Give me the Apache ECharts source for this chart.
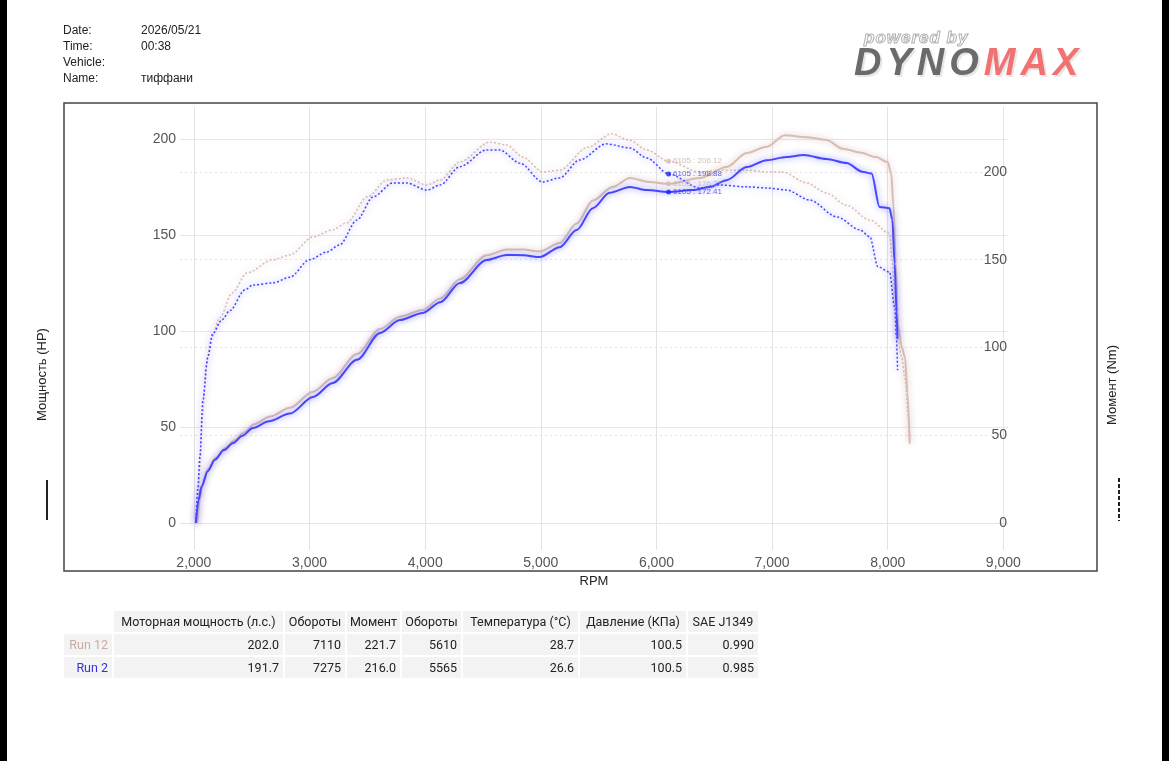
<!DOCTYPE html>
<html>
<head>
<meta charset="utf-8">
<title>Dynomax</title>
<script src="https://cdn.jsdelivr.net/npm/echarts@6/dist/echarts.min.js"></script>
<style>
html,body{margin:0;padding:0;background:#fff;}
body{width:1169px;height:761px;position:relative;overflow:hidden;font-family:"Liberation Sans",Arial,sans-serif;}
.bar{position:absolute;top:0;bottom:0;width:7px;background:#000;z-index:3;}
#chart{position:absolute;left:0;top:0;width:1169px;height:761px;}
#info{position:absolute;left:63px;top:22px;font-size:12px;line-height:16px;color:#222;z-index:2;}
#info span{display:inline-block;width:78px;}
#logo{position:absolute;left:854px;top:28px;z-index:2;font-family:"Liberation Sans",Arial,sans-serif;}
#logo .pw{position:absolute;left:10px;top:0;font-size:17px;font-weight:bold;font-style:italic;color:#fff;-webkit-text-stroke:1px #b0b0b0;letter-spacing:1px;white-space:nowrap;}
#logo .dm{position:absolute;left:0;top:13px;font-size:38px;font-weight:900;font-style:italic;letter-spacing:5px;white-space:nowrap;text-shadow:2px 2px 1px #e6e6e6;}
#logo .g{color:#6b6b6b;}
#logo .r{color:#f07272;}
#tbl{position:absolute;left:62px;top:609px;z-index:2;border-collapse:separate;border-spacing:2px;font-family:Roboto,"Liberation Sans",sans-serif;font-size:12.5px;color:#222;table-layout:fixed;}
#tbl td{height:21px;padding:0 4px;background:#f3f3f3;text-align:right;white-space:nowrap;box-sizing:border-box;}
#tbl tr.hd td{text-align:center;padding:0 2px;}
#tbl td.blank{background:transparent;}
</style>
</head>
<body>
<div class="bar" style="left:0"></div>
<div class="bar" style="right:0"></div>
<div id="chart"></div>
<div id="info"></div>
<div id="logo"><div class="pw">powered by</div><div class="dm"><span class="g">DYNO</span><span class="r">MAX</span></div></div>
<table id="tbl"></table>
<script>
// шапка
const infoRows = [['Date:', '2026/05/21'], ['Time:', '00:38'], ['Vehicle:', ''], ['Name:', 'тиффани']];

// оси
const xTicks = [2000, 3000, 4000, 5000, 6000, 7000, 8000, 9000];
const hpTicks = [0, 50, 100, 150, 200];
const nmTicks = [0, 50, 100, 150, 200];

// Run 12, мощность (HP) [rpm, hp]
const run12Hp = [[2030,0],[2050,12],[2075,20],[2120,28],[2190,34],[2270,39],[2350,43],[2430,47],[2520,51.5],[2660,55.5],[2830,60],[3030,68.4],[3200,75.5],[3410,88],[3610,101],[3780,107.5],[3980,111],[4130,117],[4300,127],[4530,139.5],[4705,142.5],[4850,142.5],[4990,141.5],[5163,145.8],[5310,156],[5450,168],[5620,175],[5770,179.7],[5940,177.6],[6105,176.7],[6375,179.7],[6607,185.4],[6780,192.7],[6953,196],[7110,202],[7300,201],[7470,199.5],[7610,195],[7760,193],[7900,190.6],[8000,188],[8030,182],[8050,165],[8070,135],[8090,103],[8120,92],[8150,86],[8170,68],[8190,42]];
// Run 12, момент (Nm)
const run12Nm = [[2030,0],[2050,30],[2075,62],[2105,90],[2150,105],[2225,117],[2330,131],[2460,142.5],[2683,150],[2830,152.7],[3030,163],[3200,167],[3320,171],[3500,185.8],[3670,195.4],[3840,196.6],[4015,192.6],[4130,195.4],[4300,205.7],[4560,217],[4705,215.4],[4845,208.5],[5015,200],[5163,201],[5405,214],[5610,221.7],[5770,218],[5915,212.5],[6105,206.1],[6375,200],[6545,201],[6780,201],[6953,200],[7090,200],[7300,193.7],[7470,188],[7644,181],[7845,172.6],[8015,165],[8040,150],[8060,128],[8085,105],[8120,95],[8150,82],[8175,62],[8190,45]];
// Run 2, мощность (HP)
const run2Hp = [[2017,0],[2040,12],[2066,19],[2120,27],[2182,33],[2260,38],[2340,41.7],[2420,45.5],[2510,49.5],[2650,53],[2830,57],[3030,65.6],[3200,72.9],[3410,85],[3610,99],[3780,105.7],[3980,109.4],[4130,115],[4300,125],[4530,137],[4705,139.6],[4850,139.5],[4990,138.5],[5163,143.7],[5310,152.6],[5450,164],[5595,172],[5770,175],[5915,173.4],[6105,172.4],[6313,173.4],[6460,175],[6607,178.6],[6780,185.4],[6953,189],[7125,190.6],[7275,191.7],[7470,189.6],[7644,187.5],[7780,183],[7860,182],[7930,164.6],[8015,164],[8040,158],[8060,135],[8076,110],[8085,96]];
// Run 2, момент (Nm)
const run2Nm = [[2017,0],[2035,20],[2052,37.6],[2078,70],[2121,94.6],[2164,108],[2242,115.7],[2311,121],[2441,132.8],[2510,135.6],[2683,136.8],[2830,140],[3000,150],[3150,154.4],[3260,158.4],[3410,172.6],[3550,185.8],[3720,193.7],[3840,193.7],[4015,189.7],[4130,192.6],[4300,203],[4530,212.5],[4645,212.5],[4820,205],[5015,194.3],[5163,196.6],[5336,206.8],[5565,216],[5770,213.7],[5915,208],[6105,198.9],[6375,190.9],[6545,192.6],[6780,191.5],[6953,190.9],[7125,189.7],[7325,184],[7560,174.4],[7760,167],[7845,163],[7915,146],[8015,143],[8060,123],[8075,106],[8085,87]];

// метки курсора
const cursorRpm = 6105;
const run12Cursor = [206.12, 176.71];
const run2Cursor = [198.88, 172.41];

// таблица
const tableHead = ['', 'Моторная мощность (л.с.)', 'Обороты', 'Момент', 'Обороты', 'Температура (°C)', 'Давление (КПа)', 'SAE J1349'];
const run12Row = ['Run 12', '202.0', '7110', '221.7', '5610', '28.7', '100.5', '0.990'];
const run2Row = ['Run 2', '191.7', '7275', '216.0', '5565', '26.6', '100.5', '0.985'];
const colWidths = [48, 169, 60, 53, 59, 115, 106, 70];

const C12 = '#d6bdb5';
const C2 = '#4646ff';

document.getElementById('info').innerHTML = infoRows.map(r => '<div><span>' + r[0] + '</span>' + r[1] + '</div>').join('');

let html = '<colgroup>' + colWidths.map(w => '<col style="width:' + w + 'px">').join('') + '</colgroup>';
html += '<tr class="hd">' + tableHead.map((t, i) => '<td' + (i == 0 ? ' class="blank"' : '') + '>' + t + '</td>').join('') + '</tr>';
html += '<tr>' + run12Row.map((t, i) => '<td' + (i == 0 ? ' style="color:#c9aca4"' : '') + '>' + t + '</td>').join('') + '</tr>';
html += '<tr>' + run2Row.map((t, i) => '<td' + (i == 0 ? ' style="color:#3333dd"' : '') + '>' + t + '</td>').join('') + '</tr>';
document.getElementById('tbl').innerHTML = html;

function curve(name, data, yIdx, color, glow, dotted) {
  return {
    name: name, type: 'line', data: data, yAxisIndex: yIdx,
    showSymbol: false, smooth: 0.3, smoothMonotone: 'x',
    lineStyle: { color: color, width: dotted ? 1.5 : 2, type: dotted ? [2, 2] : 'solid', shadowBlur: 6, shadowColor: glow },
    silent: true
  };
}

function cursor(name, value, yIdx, color, labelColor) {
  return {
    name: name, type: 'scatter', yAxisIndex: yIdx, z: 5,
    data: [[cursorRpm, value]], symbolSize: 5, itemStyle: { color: color },
    label: { show: true, position: 'right', distance: 2, fontSize: 8, color: labelColor,
      formatter: p => p.value[0] + ' : ' + p.value[1].toFixed(2) },
    silent: true
  };
}

const chart = echarts.init(document.getElementById('chart'));
chart.setOption({
  animation: false,
  grid: { left: 180, right: 161, top: 107, bottom: 211 },
  xAxis: {
    type: 'value', min: 1880, max: 9040,
    name: 'RPM', nameLocation: 'middle', nameGap: 24,
    nameTextStyle: { fontSize: 13, color: '#222', fontFamily: 'Liberation Sans' },
    axisLine: { show: false },
    axisTick: { show: false, customValues: xTicks },
    axisLabel: { customValues: xTicks, fontSize: 14, color: '#555', margin: 6, fontFamily: 'Liberation Sans',
      formatter: v => v.toLocaleString('en-US') },
    splitLine: { show: true, lineStyle: { color: '#e3e3e3', width: 1 } }
  },
  yAxis: [{
    type: 'value', min: -14.06, max: 216.7,
    name: 'Мощность (HP)', nameLocation: 'middle', nameRotate: 90, nameGap: 131,
    nameTextStyle: { fontSize: 13, color: '#222', fontFamily: 'Liberation Sans', padding: [0, 92, 0, 0] },
    axisLine: { show: false },
    axisTick: { show: false, customValues: hpTicks },
    axisLabel: { customValues: hpTicks, fontSize: 14, color: '#555', margin: 4, fontFamily: 'Liberation Sans' },
    splitLine: { show: true, lineStyle: { color: '#e8e8e8', width: 1 } }
  }, {
    type: 'value', position: 'right', min: -15.38, max: 237.0,
    name: 'Момент (Nm)', nameLocation: 'middle', nameRotate: 90, nameGap: 98,
    nameTextStyle: { fontSize: 13, color: '#222', fontFamily: 'Liberation Sans', padding: [0, 113, 0, 0] },
    axisLine: { show: false },
    axisTick: { show: false, customValues: nmTicks },
    axisLabel: { customValues: nmTicks, inside: true, fontSize: 14, color: '#555', margin: 1, fontFamily: 'Liberation Sans' },
    splitLine: { show: true, lineStyle: { color: '#e2e2e2', width: 1, type: [2, 3] } }
  }],
  graphic: [
    { type: 'rect', silent: true, shape: { x: 64, y: 103, width: 1033, height: 468 }, style: { fill: 'none', stroke: '#444', lineWidth: 1.5 } },
    { type: 'line', silent: true, shape: { x1: 47, y1: 480, x2: 47, y2: 520 }, style: { stroke: '#222', lineWidth: 2 } },
    { type: 'line', silent: true, shape: { x1: 1119, y1: 478, x2: 1119, y2: 521 }, style: { stroke: '#222', lineWidth: 2, lineDash: [4, 2] } }
  ],
  series: [
    curve('Run 12 HP', run12Hp, 0, C12, 'rgba(205,170,160,0.7)', false),
    curve('Run 12 Nm', run12Nm, 1, C12, 'rgba(205,170,160,0.7)', true),
    curve('Run 2 HP', run2Hp, 0, C2, 'rgba(80,80,255,0.7)', false),
    curve('Run 2 Nm', run2Nm, 1, C2, 'rgba(80,80,255,0.7)', true),
    cursor('Run 12 Nm @', run12Cursor[0], 1, C12, '#c9aca4'),
    cursor('Run 12 HP @', run12Cursor[1], 0, C12, '#c9aca4'),
    cursor('Run 2 Nm @', run2Cursor[0], 1, '#2222ee', '#3a3aee'),
    cursor('Run 2 HP @', run2Cursor[1], 0, '#2222ee', '#3a3aee')
  ]
});
</script>
</body>
</html>
